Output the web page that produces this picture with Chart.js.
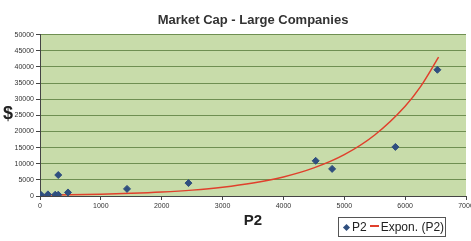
<!DOCTYPE html>
<html>
<head>
<meta charset="utf-8">
<script src="https://cdn.jsdelivr.net/npm/chart.js@4/dist/chart.umd.min.js"></script>
<style>
  body { margin: 0; background: #fff; font-family: Arial, "Liberation Sans", sans-serif; }
  #wrap { position: relative; width: 471px; height: 241px; }
  #legend {
    position: absolute; left: 338px; top: 217px; width: 106px; height: 18px;
    border: 1px solid #555; font-size: 12px; color: #222; line-height: 18px;
    white-space: nowrap;
  }
  #legend .dia { display: inline-block; width: 5px; height: 5px; background: #2f4f7f;
    transform: rotate(45deg); margin: 0 3px 1px 5px; vertical-align: middle; }
  #legend .ln { display: inline-block; width: 9px; height: 2px; background: #e0402c;
    margin: 0 2px 3px 3px; vertical-align: middle; }
  #ytitle { position: absolute; left: 3px; top: 103px; font-size: 18px; font-weight: bold; color: #222; }
</style>
</head>
<body>
<div id="wrap">
  <canvas id="chart" width="471" height="241"></canvas>
  <div id="ytitle">$</div>
  <div id="legend"><span class="dia"></span>P2<span class="ln"></span>Expon. (P2)</div>
</div>
<script>
// Datos
const p2X = [20, 130, 250, 300, 300, 460, 1430, 2440, 4530, 4800, 5840, 6530];
const p2Y = [300, 500, 400, 400, 6500, 1100, 2200, 4000, 10900, 8400, 15200, 39100];

// Linea de tendencia exponencial
const trendX = [0, 500, 1000, 1500, 2000, 2500, 3000, 3500, 4000, 4500, 5000, 5500, 6000, 6250, 6550];
const trendY = [260, 380, 560, 830, 1230, 1820, 2700, 4000, 5900, 8700, 12800, 18900, 27800, 33800, 43000];

const xTicks = [0, 1000, 2000, 3000, 4000, 5000, 6000, 7000];
const yTicks = [0, 5000, 10000, 15000, 20000, 25000, 30000, 35000, 40000, 45000, 50000];

const plotBg = {
  id: "plotBg",
  beforeDraw(chart) {
    const { ctx, chartArea: a } = chart;
    ctx.save();
    ctx.fillStyle = "#c8dcaa";
    ctx.fillRect(a.left, a.top, a.right - a.left, a.bottom - a.top);
    ctx.restore();
  },
};

const ctx = document.getElementById("chart").getContext("2d");
new Chart(ctx, {
  type: "scatter",
  data: {
    datasets: [
      {
        label: "P2",
        data: p2X.map((x, i) => ({ x: x, y: p2Y[i] })),
        pointStyle: "rectRot",
        pointRadius: 3.5,
        backgroundColor: "#2f4f7f",
        borderColor: "#2f4f7f",
        order: 1,
      },
      {
        label: "Expon. (P2)",
        type: "line",
        data: trendX.map((x, i) => ({ x: x, y: trendY[i] })),
        borderColor: "#e0402c",
        borderWidth: 1.5,
        pointRadius: 0,
        cubicInterpolationMode: "monotone",
        fill: false,
        order: 2,
      },
    ],
  },
  options: {
    responsive: false,
    animation: false,
    layout: { padding: { left: 0, right: 5, top: 0, bottom: 0 } },
    plugins: {
      legend: { display: false },
      tooltip: { enabled: false },
      title: {
        display: true,
        text: "Market Cap - Large Companies",
        fullSize: false,
        color: "#333",
        font: { family: "Arial", size: 13, weight: "bold" },
        padding: { top: 13, bottom: 6 },
      },
    },
    scales: {
      x: {
        type: "linear",
        min: 0,
        max: 7000,
        afterBuildTicks: (s) => { s.ticks = xTicks.map((v) => ({ value: v })); },
        afterFit: (s) => { s.height = 45; s.paddingRight = 0; },
        ticks: {
          color: "#333",
          font: { family: "Arial", size: 7 },
          padding: 2,
          maxRotation: 0,
          callback: (v) => String(v),
        },
        grid: { drawOnChartArea: false, tickLength: 4, color: "#444" },
        border: { color: "#444", width: 1 },
        title: {
          display: true,
          text: "P2",
          color: "#222",
          font: { family: "Arial", size: 15, weight: "bold" },
          padding: { top: 0, bottom: 11 },
        },
      },
      y: {
        type: "linear",
        min: 0,
        max: 50000,
        afterBuildTicks: (s) => { s.ticks = yTicks.map((v) => ({ value: v })); },
        afterFit: (s) => { s.width = 40; },
        ticks: {
          color: "#333",
          font: { family: "Arial", size: 7 },
          padding: 2,
          callback: (v) => String(v),
        },
        grid: {
          color: (c) => (c.tick && c.tick.value === 0 ? "#444" : "#6f8f52"),
          tickColor: "#444",
          tickLength: 4,
          lineWidth: 1,
        },
        border: { color: "#444", width: 1 },
      },
    },
  },
  plugins: [plotBg],
});
</script>
</body>
</html>
